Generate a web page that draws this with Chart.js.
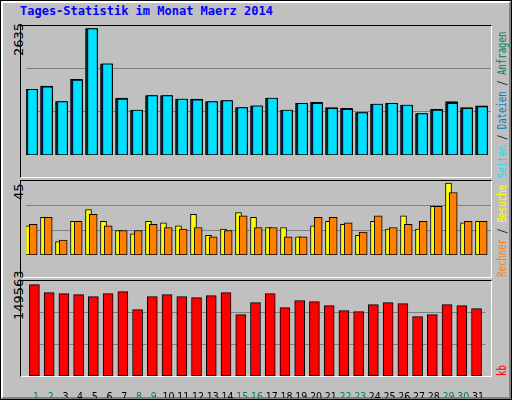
<!DOCTYPE html>
<html><head><meta charset="utf-8">
<script src="https://cdn.jsdelivr.net/npm/chart.js@4"></script>
<style>
body{margin:0;background:#fff;overflow:hidden;}
#outer{position:absolute;left:0;top:0;width:510px;height:398px;border:1px solid #000;background:#c0c0c0;}
#inner{position:absolute;left:0;top:0;width:506px;height:394px;border-top:2px solid #fff;border-left:2px solid #fff;border-right:2px solid #808080;border-bottom:2px solid #808080;}
.frame{position:absolute;box-sizing:border-box;border-top:1px solid #000;border-left:1px solid #000;border-right:1px solid #fff;border-bottom:1px solid #fff;}
canvas{position:absolute;}
.rot{position:absolute;transform-origin:0 0;transform:rotate(-90deg) scaleY(1.3);white-space:nowrap;font-family:"DejaVu Sans Mono",monospace;font-size:9px;line-height:9px;}
.num{position:absolute;transform-origin:0 0;transform:rotate(-90deg);white-space:nowrap;font-family:"DejaVu Sans",sans-serif;font-size:13px;line-height:13px;color:#000;}
#title{position:absolute;left:20px;top:4px;font-family:"DejaVu Sans Mono",monospace;font-weight:bold;font-size:12px;color:#0000ff;}
</style></head><body>
<div id="outer"><div id="inner"></div></div>
<div id="title">Tages-Statistik im Monat Maerz 2014</div>
<div class="frame" style="left:20px;top:25px;width:472px;height:153px"></div>
<div class="frame" style="left:20px;top:180px;width:472px;height:98px"></div>
<div class="frame" style="left:20px;top:280px;width:472px;height:97px"></div>
<div class="num" style="left:12px;top:56px">2635</div>
<div class="num" style="left:12px;top:200px">45</div>
<div class="num" style="left:12px;top:320px">149563</div>
<div class="rot" style="left:497px;top:178px"><span style="color:#00e0ff">Seiten</span><span style="color:#000"> / </span><span style="color:#0080c0">Dateien</span><span style="color:#000"> / </span><span style="color:#00805f">Anfragen</span></div>
<div class="rot" style="left:497px;top:277px"><span style="color:#ff8000">Rechner</span><span style="color:#000"> / </span><span style="color:#ffff00">Besuche</span></div>
<div class="rot" style="left:497px;top:376px"><span style="color:#ff0000">kb</span></div>
<canvas id="c1"></canvas><canvas id="c2"></canvas><canvas id="c3"></canvas>
<script>
const days=Array.from({length:31},(_,i)=>String(i+1));
const weekend=[1,2,8,9,15,16,22,23,29,30];
const anfragen=[1372,1438,1116,1581,2635,1903,1187,937,1241,1241,1169,1169,1116,1134,990,1026,1187,937,1080,1098,990,972,883,1062,1080,1044,865,955,1116,990,1026];
const seiten=[1372,1420,1116,1563,2635,1903,1169,937,1241,1241,1169,1151,1116,1134,990,1026,1187,937,1080,1080,972,955,883,1062,1080,1044,865,937,1080,972,1008];
const dateien=[1362,1425,1110,1570,2630,1898,1175,930,1236,1236,1164,1160,1110,1128,985,1020,1182,930,1075,1090,980,962,878,1056,1075,1038,860,945,1100,980,1016];
const besuche=[18.2,23.5,8.4,21.1,28.4,21.1,15.3,13.3,21.1,20.1,18.2,25.5,12.3,16.2,26.5,23.5,17.2,17.2,11.4,18.2,21.1,19.2,12.3,21.1,16.2,24.5,16.2,30.4,45,20.1,21.1];
const rechner=[19.2,23.5,9.4,21.1,25.5,18.2,15.3,15.3,19.2,17.2,16.2,17.2,11.4,15.3,24.5,17.2,17.2,11.4,11.4,23.5,23.5,20.1,14.3,24.5,17.2,19.2,21.1,30.4,39.1,21.1,21.1];
const kb=[149563,136500,134800,133200,129900,134800,138100,108600,129900,133200,129900,128300,131600,136500,100400,120100,134800,111900,123400,121700,115200,107000,105400,116800,120100,118500,97200,100400,116800,115200,110300];

const shift={id:'shift',afterDatasetsUpdate(ch){ch.data.datasets.forEach((d,i)=>{const m=ch.getDatasetMeta(i);m.data.forEach(e=>{e.x+=d.dx||0;});});}};
function place(id,l,t,w,h){const c=document.getElementById(id);c.style.left=l+'px';c.style.top=t+'px';c.style.width=w+'px';c.style.height=h+'px';c.width=w;c.height=h;return c;}
function yAxis(max){return {min:0,max:max,border:{display:false},ticks:{display:false},grid:{color:'#808080',drawTicks:false,lineWidth:1},afterBuildTicks:s=>{s.ticks=[{value:max/3},{value:2*max/3}];}};}
function mk(id,l,t,w,h,datasets,max,showX){
 return new Chart(place(id,l,t,w,h),{type:'bar',data:{labels:days,datasets:datasets},plugins:[shift],
 options:{responsive:false,animation:false,layout:{padding:0},plugins:{legend:{display:false},tooltip:{enabled:false}},
 scales:{x:{display:showX,afterFit:s=>{s.height=22;},grid:{display:false},border:{display:false},ticks:{padding:7,font:{family:'DejaVu Sans Condensed, DejaVu Sans',size:10.5},color:c=>weekend.includes(c.index+1)?'#00805f':'#000',maxRotation:0,autoSkip:false}},y:yAxis(max)}}});
}
const bw={borderColor:'#000',borderWidth:1,grouped:false,borderSkipped:false};
mk('c1',25.5,25,465,152,[
 {data:seiten,backgroundColor:'#00e0ff',barThickness:10,dx:-1,order:1,...bw},
 {data:dateien,backgroundColor:'#0040ff',barThickness:11,dx:-1.5,order:2,...bw},
 {data:anfragen,backgroundColor:'#008060',barThickness:12,dx:-2,order:3,...bw}],2712,false);
mk('c2',25.5,180,465,97,[
 {data:rechner,backgroundColor:'#ff8000',barThickness:8,dx:-0.3,order:1,...bw},
 {data:besuche,backgroundColor:'#ffff00',barThickness:6,dx:-5,order:2,...bw}],46.9,false);
mk('c3',25.5,281,465,117,[
 {data:kb,backgroundColor:'#ff0000',barThickness:10,dx:-1.5,...bw}],155400,true);
</script></body></html>
